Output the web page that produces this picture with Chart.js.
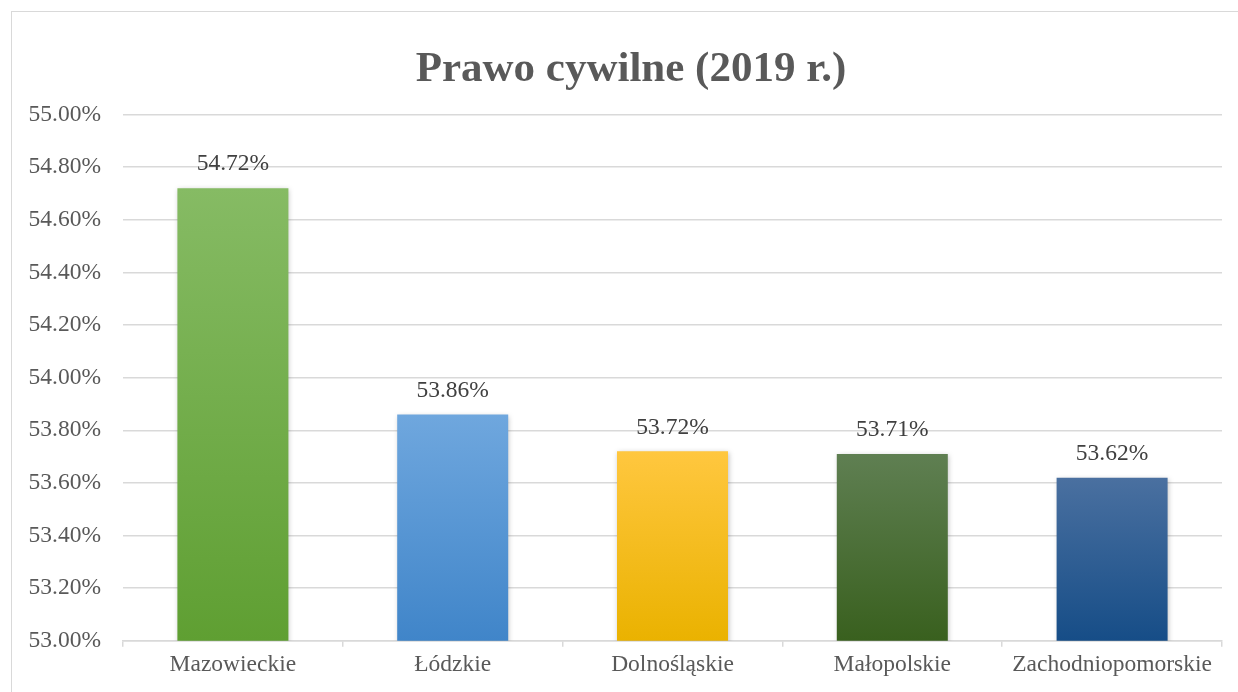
<!DOCTYPE html>
<html>
<head>
<meta charset="utf-8">
<script src="https://cdn.jsdelivr.net/npm/chart.js@4"></script>
<style>
  html, body { margin: 0; padding: 0; background: #fff; }
  #wrap { position: relative; width: 1238px; height: 692px; }
  #frame { position: absolute; left: 11px; top: 11px; width: 1240px; height: 700px; border: 1px solid #d9d9d9; box-sizing: border-box; pointer-events: none; }
</style>
</head>
<body>
<div id="wrap">
  <canvas id="chart" width="1238" height="692"></canvas>
  <div id="frame"></div>
</div>
<script>
// données
const regions = ['Mazowieckie', 'Łódzkie', 'Dolnośląskie', 'Małopolskie', 'Zachodniopomorskie'];
const values = [54.72, 53.86, 53.72, 53.71, 53.62];
const gradTop = ['#86bb64', '#6fa7de', '#ffc73f', '#5f7f52', '#4a70a0'];
const gradBottom = ['#5f9f32', '#4085c9', '#eab200', '#39601e', '#164d87'];

const font = "'Liberation Serif', 'Times New Roman', serif";

function barFill(ctx) {
    const chart = ctx.chart;
    const area = chart.chartArea;
    if (!area) return gradBottom[ctx.dataIndex];
    const y = chart.scales.y.getPixelForValue(values[ctx.dataIndex]);
    const g = chart.ctx.createLinearGradient(0, y, 0, area.bottom);
    g.addColorStop(0, gradTop[ctx.dataIndex]);
    g.addColorStop(1, gradBottom[ctx.dataIndex]);
    return g;
}

// étiquettes au-dessus des barres + ombre légère
const labelsPlugin = {
    id: 'valueLabels',
    afterLayout(chart) {
        // le titre est un peu décalé vers la droite dans l'original
        if (chart.titleBlock) chart.titleBlock.left = 40;
    },
    beforeDatasetDraw(chart) {
        const c = chart.ctx;
        c.save();
        c.shadowColor = 'rgba(0,0,0,0.25)';
        c.shadowBlur = 5;
        c.shadowOffsetX = 1;
        c.shadowOffsetY = 1;
    },
    afterDatasetDraw(chart) {
        chart.ctx.restore();
    },
    afterDatasetsDraw(chart) {
        const c = chart.ctx;
        const meta = chart.getDatasetMeta(0);
        c.save();
        c.font = '23.5px ' + font;
        c.fillStyle = '#404040';
        c.textAlign = 'center';
        c.textBaseline = 'middle';
        meta.data.forEach((bar, i) => {
            c.fillText(values[i].toFixed(2) + '%', bar.x, bar.y - 24);
        });
        c.restore();
    }
};

new Chart(document.getElementById('chart'), {
    type: 'bar',
    data: {
        labels: regions,
        datasets: [{
            data: values,
            backgroundColor: barFill,
            borderWidth: 0,
            categoryPercentage: 1,
            barPercentage: 0.505
        }]
    },
    options: {
        responsive: false,
        animation: false,
        layout: { padding: { left: 0, right: 16, top: 0, bottom: 9 } },
        plugins: {
            legend: { display: false },
            tooltip: { enabled: false },
            title: {
                display: true,
                text: 'Prawo cywilne (2019 r.)',
                color: '#595959',
                font: { family: font, size: 43, weight: 'bold' },
                padding: { top: 44, bottom: 19 }
            }
        },
        scales: {
            y: {
                min: 53,
                max: 55,
                ticks: {
                    stepSize: 0.2,
                    color: '#595959',
                    font: { family: font, size: 23.5 },
                    padding: 22,
                    callback: v => v.toFixed(2) + '%'
                },
                grid: { color: '#d9d9d9', lineWidth: 1.5, drawTicks: false },
                border: { display: false },
                afterFit(scale) { scale.width = 123; }
            },
            x: {
                ticks: {
                    color: '#595959',
                    font: { family: font, size: 23.5 },
                    padding: 4
                },
                grid: { offset: true, drawOnChartArea: false, color: '#d9d9d9', tickLength: 6, lineWidth: 1.5 },
                border: { color: '#d9d9d9', width: 1.5 }
            }
        }
    },
    plugins: [labelsPlugin]
});
</script>
</body>
</html>
